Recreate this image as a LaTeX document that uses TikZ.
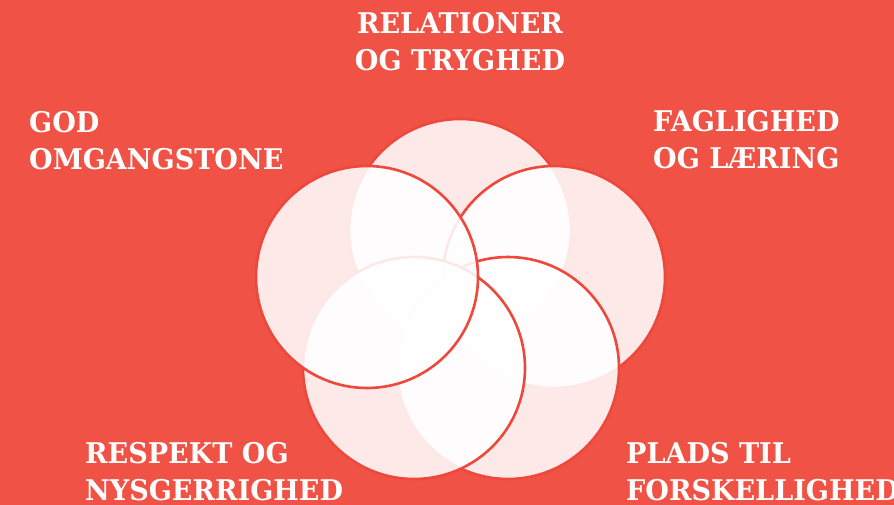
\documentclass[tikz,border=0pt]{standalone}
\usepackage{fontspec}
\newfontfamily\themefont{DejaVu Serif}[FakeStretch=0.95]
\usepackage{xcolor}
\usepackage{tikz}
\usetikzlibrary{positioning}
\definecolor{bgred}{RGB}{240,82,69}
\definecolor{linered}{RGB}{238,72,60}

\begin{document}
\begin{tikzpicture}[x=1pt,y=-1pt,
		petal/.style={fill=white,fill opacity=0.88,draw=linered,draw opacity=1,line width=2.6pt},
		theme/.style={text=white,font=\fontsize{28.5}{37}\themefont\bfseries,inner sep=0pt,align=left}]
		\fill[bgred] (0,0) rectangle (894,505);
		\useasboundingbox (0,0) rectangle (894,505);
		% circles, back to front
		\filldraw[petal] (460,230) circle (111pt);
		\filldraw[petal] (554,277) circle (111pt);
		\filldraw[petal] (508,368) circle (111pt);
		\filldraw[petal] (414,368) circle (111pt);
		\filldraw[petal] (367,277) circle (111pt);
		% labels
		\node[theme,align=center,anchor=north] (relationer) at (460,12) {RELATIONER\\OG TRYGHED};
		\node[theme,anchor=north west] (omgangstone) at (29,111) {GOD\\OMGANGSTONE};
		\node[theme,anchor=north west] (faglighed) at (653,110) {FAGLIGHED\\OG LÆRING};
		\node[theme,anchor=north west] (respekt) at (85,442) {RESPEKT OG\\NYSGERRIGHED};
		\node[theme,anchor=north west] (plads) at (626,442) {PLADS TIL\\FORSKELLIGHED};
	\end{tikzpicture}
\end{document}
